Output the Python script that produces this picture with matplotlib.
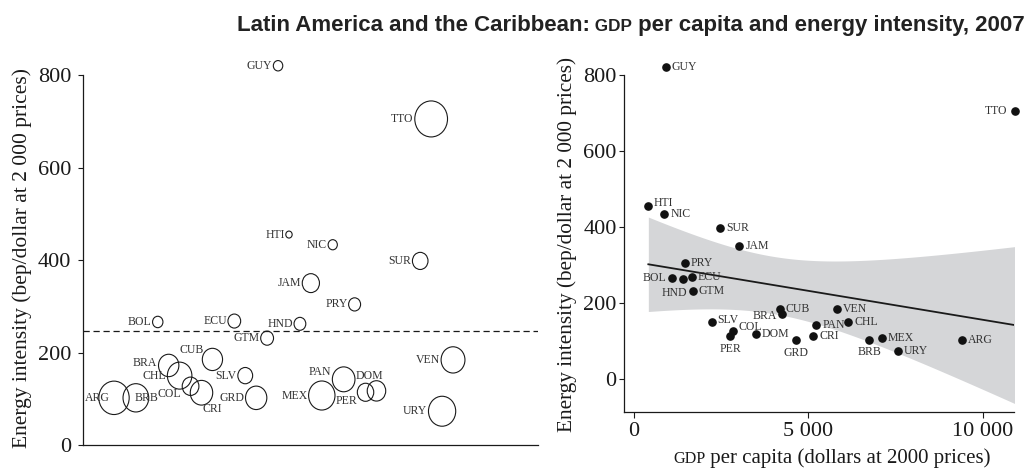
import numpy as np
import matplotlib
matplotlib.use("Agg")
import matplotlib.pyplot as plt
from matplotlib.path import Path
from matplotlib.transforms import Affine2D

# countries (ISO codes), rank in the alphabetical (Spanish) list of the region,
# GDP per capita (dollars at 2000 prices) and energy intensity (bep/dollar)
codes = ["ARG", "BRB", "BOL", "BRA", "CHL", "COL", "CRI", "CUB", "ECU", "SLV",
         "GRD", "GTM", "GUY", "HTI", "HND", "JAM", "MEX", "NIC", "PAN", "PRY",
         "PER", "DOM", "SUR", "TTO", "URY", "VEN"]
rank = [2, 4, 6, 7, 8, 9, 10, 11, 13, 14, 15, 16, 17, 18, 19, 20, 21, 22, 23,
        24, 25, 26, 30, 31, 32, 33]
gdp = [9406, 6748, 1099, 4235, 6146, 2848, 5142, 4178, 1654, 2237, 4637, 1683,
       909, 411, 1415, 3021, 7112, 870, 5228, 1463, 2753, 3490, 2476, 10927,
       7571, 5812]
intensity = [102, 102, 266, 172, 150, 127, 113, 185, 268, 150, 102, 231, 820,
             455, 262, 350, 107, 433, 142, 304, 114, 117, 398, 705, 73, 184]

yticks = [0, 200, 400, 600, 800]
xticks = [0, 5000, 10000]
xtick_labels = ["0", "5 000", "10 000"]

title_parts = ["Latin America and the Caribbean:", " GDP",
               " per capita and energy intensity, 2007"]
ylab = "Energy intensity (bep/dollar at 2 000 prices)"
xlab_parts = ["GDP", " per capita (dollars at 2000 prices)"]

SERIF = ["Liberation Serif", "DejaVu Serif"]
SANS = ["Liberation Sans", "DejaVu Sans"]
INK = "#1a1a1a"
LABEL_FS = 8.5
TICK_FS = 16

W, H = 1026, 469
fig = plt.figure(figsize=(W / 100, H / 100), dpi=100)


def px_axes(left, top, right, bottom):
    return fig.add_axes([left / W, 1 - bottom / H, (right - left) / W, (bottom - top) / H])


def style_axes(ax):
    for side in ["top", "right"]:
        ax.spines[side].set_visible(False)
    for side in ["left", "bottom"]:
        ax.spines[side].set_linewidth(0.9)
        ax.spines[side].set_color(INK)
    ax.set_yticks(yticks)
    ax.set_yticklabels([str(v) for v in yticks], family=SERIF, fontsize=TICK_FS, color=INK)
    ax.tick_params(axis="y", direction="out", length=3.3, width=0.8, color=INK)


# ---------- left panel: bubbles by country ----------
ax1 = px_axes(83, 445 - 840 * 0.4625, 538, 445)
ax1.set_xlim(-0.835, 40.77)
ax1.set_ylim(0, 840)
style_axes(ax1)
ax1.spines["left"].set_bounds(0, 800)
ax1.set_xticks([])
ax1.tick_params(axis="y", pad=5)

k = 0.0615
sizes = np.array(gdp) * k
ellipse = Path.unit_circle().transformed(Affine2D().scale(1, 1.1))
ax1.scatter(rank, intensity, s=sizes, marker=ellipse, facecolors="none",
            edgecolors=INK, linewidths=0.8, clip_on=False, zorder=3)
ax1.axhline(np.mean(intensity), color=INK, lw=0.9, ls=(0, (5, 3)), zorder=2)

# label placement tweaks (offset in points, horizontal alignment)
left_tweaks = {
    "ARG": (-3, 0, "right"),
    "BRB": (-0.7, 0, "left"),
    "CRI": (0.7, -12, "left"),
    "CUB": (-6.5, 7, "right"),
    "PER": (-5.8, -6, "right"),
    "DOM": (-5, 11, "center"),
}
for c, x, y, s in zip(codes, rank, intensity, sizes):
    dx = -(np.sqrt(s) / 2.2 + 0.8)
    dy = 0
    ha = "right"
    if c in left_tweaks:
        dx, dy, ha = left_tweaks[c]
    if c == "COL":
        dy = -5.8
    if c == "PAN":
        dy = 5
    if c == "BRA":
        dy = 1.5
    ax1.annotate(c, (x, y), xytext=(dx, dy), textcoords="offset points",
                 ha=ha, va="center", family=SERIF, fontsize=LABEL_FS, color="#333333",
                 annotation_clip=False, zorder=4)

# ---------- right panel: scatter with linear fit ----------
ax2 = px_axes(624, 412 - 927 * 0.38, 1014, 412)
ax2.set_xlim(-287, 10897)
ax2.set_ylim(-87, 840)
style_axes(ax2)
ax2.spines["left"].set_bounds(-87, 800)
ax2.tick_params(axis="y", pad=2)
ax2.set_xticks(xticks)
ax2.set_xticklabels(xtick_labels, family=SERIF, fontsize=TICK_FS, color=INK)
ax2.tick_params(axis="x", direction="out", length=4.3, width=0.8, color=INK, pad=3)

gx = np.array(gdp, dtype=float)
gy = np.array(intensity, dtype=float)
n = len(gx)
slope, icept = np.polyfit(gx, gy, 1)
resid = gy - (icept + slope * gx)
s_err = np.sqrt(np.sum(resid ** 2) / (n - 2))
sxx = np.sum((gx - gx.mean()) ** 2)
t975 = 2.064  # t quantile, 24 df
xs = np.linspace(gx.min(), gx.max(), 200)
fit = icept + slope * xs
half = t975 * s_err * np.sqrt(1 / n + (xs - gx.mean()) ** 2 / sxx)
ax2.fill_between(xs, fit - half, fit + half, color="#d5d6d8", lw=0, zorder=1)
ax2.plot(xs, fit, color=INK, lw=1.3, zorder=2)
ax2.scatter(gx, gy, s=27, color="#111111", zorder=3, clip_on=False)

right_tweaks = {
    "TTO": (-5.5, 0, "right"),
    "BOL": (-4.5, 0, "right"),
    "HND": (3, -9.5, "right"),
    "BRA": (-3.5, -2, "right"),
    "PER": (0, -9.5, "center"),
    "GRD": (0, -9.5, "center"),
    "BRB": (0, -8.5, "center"),
    "HTI": (4, 2.5, "left"),
    "SLV": (3.8, 1.5, "left"),
    "COL": (3.8, 3, "left"),
}
for c, x, y in zip(codes, gdp, intensity):
    dx, dy, ha = right_tweaks.get(c, (4.3, 0, "left"))
    ax2.annotate(c, (x, y), xytext=(dx, dy), textcoords="offset points",
                 ha=ha, va="center", family=SERIF, fontsize=LABEL_FS, color="#333333",
                 annotation_clip=False, zorder=4)

# ---------- texts ----------
fig.text(22 / W, 1 - 258 / H, ylab, rotation=90, ha="center", va="center",
         family=SERIF, fontsize=15.5, color=INK)
fig.text(567 / W, 1 - 244 / H, ylab, rotation=90, ha="center", va="center",
         family=SERIF, fontsize=15.3, color=INK)

renderer = fig.canvas.get_renderer()


def chain(parts, sizes_pt, x0, y_base, **kw):
    x = x0
    for txt, fs in zip(parts, sizes_pt):
        t = fig.text(x / W, y_base / H, txt, ha="left", va="baseline", fontsize=fs, **kw)
        x = t.get_window_extent(renderer).x1


chain(title_parts, [16, 12.3, 16], 237, H - 31, family=SANS, weight="bold", color="#222222")
chain(xlab_parts, [11.6, 15], 673, H - 463, family=SERIF, color=INK)

fig.savefig("out.png", dpi=100)
